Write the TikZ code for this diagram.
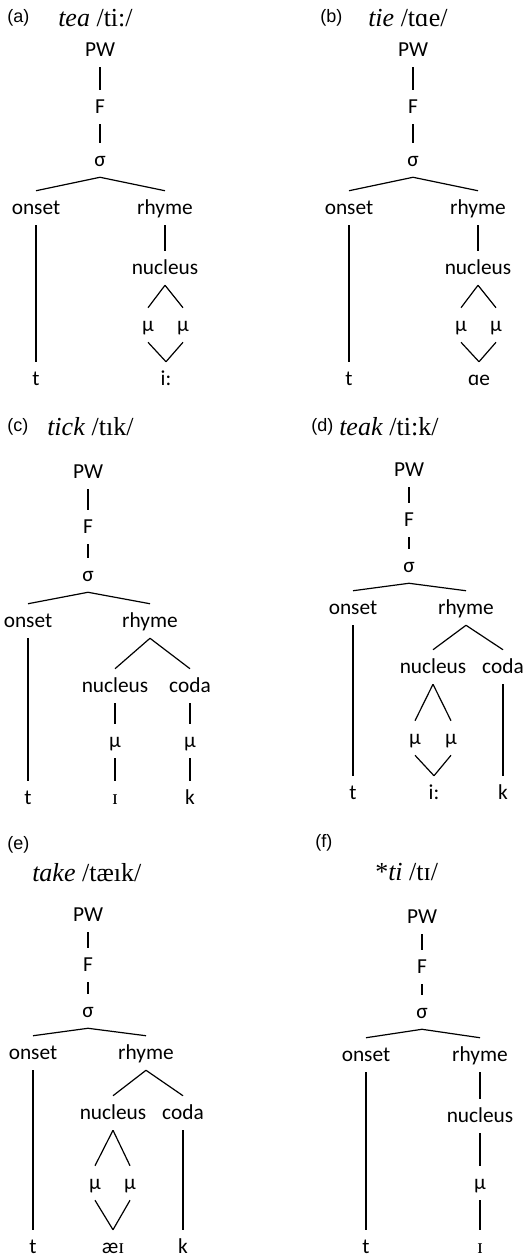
\documentclass[tikz,border=0pt]{standalone}
\usepackage{fontspec}
\setmainfont{Carlito}
\newfontfamily\tnr{Liberation Serif}
\newfontfamily\arial{Liberation Sans}
\usepackage{tikz}

\tikzset{
  lab/.style={inner sep=0pt, minimum height=25.5pt, text height=9.6pt, text depth=0pt, font=\fontsize{16}{18}\selectfont},
  tag/.style={anchor=west, inner sep=0pt, font=\arial\fontsize{13.5}{16}\selectfont},
  word/.style={anchor=west, inner sep=0pt, font=\tnr\fontsize{19.5}{22}\selectfont},
  every edge/.style={draw, line width=0.9pt}
}

\begin{document}
\begin{tikzpicture}[x=0.75pt,y=-0.75pt]
  \useasboundingbox (0,0) rectangle (522,1257);

  % (a)
  \node[tag] (a-tag) at (7,18) {(a)};
  \node[word] (a-word) at (58,18) {\textit{tea} /ti:/};
  \node[lab] (a-pw) at (100,50) {PW};
  \node[lab] (a-f) at (100,107) {F};
  \node[lab] (a-s) at (100,160) {σ};
  \node[lab] (a-on) at (36,208) {onset};
  \node[lab] (a-rh) at (165,208) {rhyme};
  \node[lab] (a-nu) at (165,268) {nucleus};
  \node[lab] (a-m1) at (148,325) {μ};
  \node[lab] (a-m2) at (183,325) {μ};
  \node[lab] (a-t) at (36,379) {t};
  \node[lab] (a-v) at (166,379) {i:};
  \path
    (a-pw) edge (a-f)
    (a-f) edge (a-s)
    (a-s.south) edge (a-on.north)
    (a-s.south) edge (a-rh.north)
    (a-on) edge (a-t)
    (a-rh) edge (a-nu)
    (a-nu.south) edge (a-m1.north)
    (a-nu.south) edge (a-m2.north)
    (a-m1.south) edge (a-v.north)
    (a-m2.south) edge (a-v.north);

  % (b)
  \node[tag] (b-tag) at (320,18) {(b)};
  \node[word] (b-word) at (368,18) {\textit{tie} /tɑe/};
  \node[lab] (b-pw) at (413,50) {PW};
  \node[lab] (b-f) at (413,107) {F};
  \node[lab] (b-s) at (413,160) {σ};
  \node[lab] (b-on) at (349,208) {onset};
  \node[lab] (b-rh) at (478,208) {rhyme};
  \node[lab] (b-nu) at (478,268) {nucleus};
  \node[lab] (b-m1) at (461,325) {μ};
  \node[lab] (b-m2) at (496,325) {μ};
  \node[lab] (b-t) at (349,379) {t};
  \node[lab] (b-v) at (479,379) {ɑe};
  \path
    (b-pw) edge (b-f)
    (b-f) edge (b-s)
    (b-s.south) edge (b-on.north)
    (b-s.south) edge (b-rh.north)
    (b-on) edge (b-t)
    (b-rh) edge (b-nu)
    (b-nu.south) edge (b-m1.north)
    (b-nu.south) edge (b-m2.north)
    (b-m1.south) edge (b-v.north)
    (b-m2.south) edge (b-v.north);

  % (c)
  \node[tag] (c-tag) at (7,427) {(c)};
  \node[word] (c-word) at (47,427) {\textit{tick} /tık/};
  \node[lab] (c-pw) at (88,472) {PW};
  \node[lab] (c-f) at (88,527) {F};
  \node[lab] (c-s) at (88,575) {σ};
  \node[lab] (c-on) at (28,621) {onset};
  \node[lab] (c-rh) at (150,621) {rhyme};
  \node[lab] (c-nu) at (115,686) {nucleus};
  \node[lab] (c-co) at (190,686) {coda};
  \node[lab] (c-m1) at (115,741) {μ};
  \node[lab] (c-m2) at (190,741) {μ};
  \node[lab] (c-t) at (28,798) {t};
  \node[lab] (c-v) at (115,798) {\tnr ɪ};
  \node[lab] (c-k) at (190,798) {k};
  \path
    (c-pw) edge (c-f)
    (c-f) edge (c-s)
    (c-s.south) edge (c-on.north)
    (c-s.south) edge (c-rh.north)
    (c-on) edge (c-t)
    (c-rh.south) edge (c-nu.north)
    (c-rh.south) edge (c-co.north)
    (c-nu) edge (c-m1)
    (c-co) edge (c-m2)
    (c-m1) edge (c-v)
    (c-m2) edge (c-k);

  % (d)
  \node[tag] (d-tag) at (311,427) {(d)};
  \node[word] (d-word) at (339,427) {\textit{teak} /ti:k/};
  \node[lab] (d-pw) at (409,470) {PW};
  \node[lab] (d-f) at (409,520) {F};
  \node[lab] (d-s) at (409,566) {σ};
  \node[lab] (d-on) at (353,608) {onset};
  \node[lab] (d-rh) at (466,608) {rhyme};
  \node[lab] (d-nu) at (433,667) {nucleus};
  \node[lab] (d-co) at (503,667) {coda};
  \node[lab] (d-m1) at (415,738) {μ};
  \node[lab] (d-m2) at (451,738) {μ};
  \node[lab] (d-t) at (353,793) {t};
  \node[lab] (d-v) at (434,793) {i:};
  \node[lab] (d-k) at (503,793) {k};
  \path
    (d-pw) edge (d-f)
    (d-f) edge (d-s)
    (d-s.south) edge (d-on.north)
    (d-s.south) edge (d-rh.north)
    (d-on) edge (d-t)
    (d-rh.south) edge (d-nu.north)
    (d-rh.south) edge (d-co.north)
    (d-nu.south) edge (d-m1.north)
    (d-nu.south) edge (d-m2.north)
    (d-m1.south) edge (d-v.north)
    (d-m2.south) edge (d-v.north)
    (d-co) edge (d-k);

  % (e)
  \node[tag] (e-tag) at (7,845) {(e)};
  \node[word] (e-word) at (32,873) {\textit{take} /tæık/};
  \node[lab] (e-pw) at (88,915) {PW};
  \node[lab] (e-f) at (88,965) {F};
  \node[lab] (e-s) at (88,1011) {σ};
  \node[lab] (e-on) at (33,1053) {onset};
  \node[lab] (e-rh) at (146,1053) {rhyme};
  \node[lab] (e-nu) at (113,1113) {nucleus};
  \node[lab] (e-co) at (183,1113) {coda};
  \node[lab] (e-m1) at (95,1183) {μ};
  \node[lab] (e-m2) at (130,1183) {μ};
  \node[lab] (e-t) at (33,1247) {t};
  \node[lab] (e-v) at (113,1247) {æ{\tnr ɪ}};
  \node[lab] (e-k) at (183,1247) {k};
  \path
    (e-pw) edge (e-f)
    (e-f) edge (e-s)
    (e-s.south) edge (e-on.north)
    (e-s.south) edge (e-rh.north)
    (e-on) edge (e-t)
    (e-rh.south) edge (e-nu.north)
    (e-rh.south) edge (e-co.north)
    (e-nu.south) edge (e-m1.north)
    (e-nu.south) edge (e-m2.north)
    (e-m1.south) edge (e-v.north)
    (e-m2.south) edge (e-v.north)
    (e-co) edge (e-k);

  % (f)
  \node[tag] (f-tag) at (315,843) {(f)};
  \node[word] (f-word) at (375,872) {*\textit{ti} /tɪ/};
  \node[lab] (f-pw) at (422,917) {PW};
  \node[lab] (f-f) at (422,967) {F};
  \node[lab] (f-s) at (422,1012) {σ};
  \node[lab] (f-on) at (366,1055) {onset};
  \node[lab] (f-rh) at (480,1055) {rhyme};
  \node[lab] (f-nu) at (480,1116) {nucleus};
  \node[lab] (f-m) at (480,1183) {μ};
  \node[lab] (f-t) at (366,1247) {t};
  \node[lab] (f-v) at (480,1247) {\tnr ɪ};
  \path
    (f-pw) edge (f-f)
    (f-f) edge (f-s)
    (f-s.south) edge (f-on.north)
    (f-s.south) edge (f-rh.north)
    (f-on) edge (f-t)
    (f-rh) edge (f-nu)
    (f-nu) edge (f-m)
    (f-m) edge (f-v);
\end{tikzpicture}
\end{document}
